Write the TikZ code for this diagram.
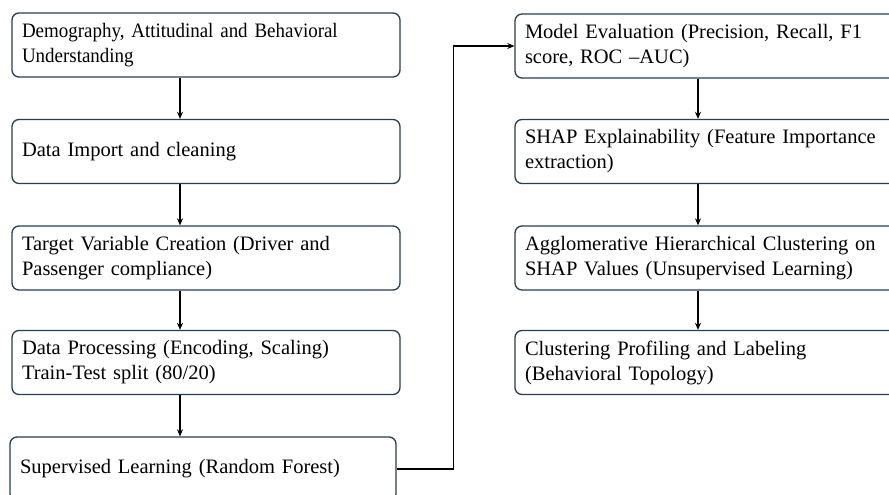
\documentclass[tikz,border=0pt]{standalone}
\usepackage{fontspec}
\setmainfont{Liberation Serif}
\usepackage{tikz}
\usetikzlibrary{arrows.meta, positioning, calc}
\definecolor{boxline}{RGB}{38, 62, 82}

\begin{document}
\begin{tikzpicture}[
  x=1pt, y=1pt,
  stepbox/.style={draw=boxline, line width=1.3pt, rounded corners=7pt, fill=white,
    minimum width=388pt, minimum height=64pt, text width=368pt, inner xsep=10pt,
    align=left, font=\fontsize{20.5}{25}\selectfont},
  flow/.style={draw=black, line width=1.4pt, -{Stealth[length=7pt, width=6pt]}}
]
\useasboundingbox (0,0) rectangle (889,-495);
\clip (0,0) rectangle (889,-495);

% left column
\node[stepbox, font=\fontsize{20.5}{25}\selectfont\addfontfeature{FakeStretch=0.925}] (demo) at (206,-45) {Demography, Attitudinal and Behavioral\\Understanding};
\node[stepbox] (import) at (206,-151.5) {Data Import and cleaning};
\node[stepbox] (target) at (206,-258) {Target Variable Creation (Driver and\\Passenger compliance)};
\node[stepbox] (proc) at (206,-362.5) {Data Processing (Encoding, Scaling)\\Train-Test split (80/20)};
\node[stepbox, minimum width=386pt, text width=366pt] (rf) at (203,-469) {Supervised Learning (Random Forest)};

% right column
\node[stepbox] (eval) at (709,-46) {Model Evaluation (Precision, Recall, F1\\score, ROC –AUC)};
\node[stepbox] (shap) at (709,-151.5) {SHAP Explainability (Feature Importance\\extraction)};
\node[stepbox] (clust) at (709,-258) {Agglomerative Hierarchical Clustering on\\SHAP Values (Unsupervised Learning)};
\node[stepbox] (prof) at (709,-362.5) {Clustering Profiling and Labeling\\(Behavioral Topology)};

% arrows
\draw[flow] ([xshift=-26pt]demo.south) -- ([xshift=-26pt]import.north);
\draw[flow] ([xshift=-26pt]import.south) -- ([xshift=-26pt]target.north);
\draw[flow] ([xshift=-26pt]target.south) -- ([xshift=-26pt]proc.north);
\draw[flow] ([xshift=-26pt]proc.south) -- ([xshift=-23pt]rf.north);
\draw[flow] (rf.east) -| ([xshift=-61pt]eval.west) -- (eval.west);
\draw[flow] ([xshift=-11pt]eval.south) -- ([xshift=-11pt]shap.north);
\draw[flow] ([xshift=-11pt]shap.south) -- ([xshift=-11pt]clust.north);
\draw[flow] ([xshift=-11pt]clust.south) -- ([xshift=-11pt]prof.north);

\end{tikzpicture}
\end{document}
